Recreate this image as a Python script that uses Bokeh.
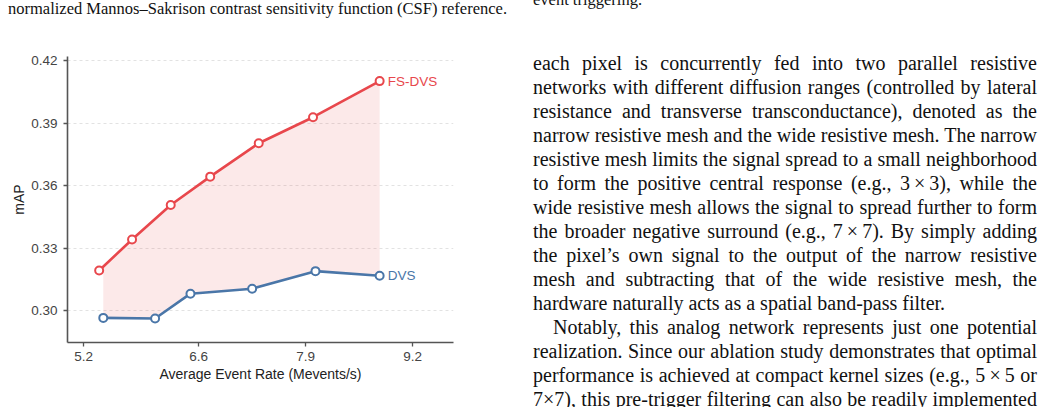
import numpy as np
from bokeh.plotting import figure
from bokeh.models import Div, FixedTicker, Range1d, NumeralTickFormatter
from bokeh.layouts import row, column
from bokeh.core.properties import value
from bokeh.embed import file_html
from bokeh.resources import INLINE

# ---------------- data ----------------
fs_x = [5.39, 5.79, 6.26, 6.74, 7.33, 7.99, 8.80]
fs_y = [0.3193, 0.3342, 0.3507, 0.3643, 0.3803, 0.3928, 0.4101]
dvs_x = [5.44, 6.07, 6.50, 7.25, 8.02, 8.80]
dvs_y = [0.2966, 0.2963, 0.3082, 0.3106, 0.3190, 0.3168]
series_names = ["FS-DVS", "DVS"]
x_ticks = [5.2, 6.6, 7.9, 9.2]
y_ticks = [0.30, 0.33, 0.36, 0.39, 0.42]
x_label = "Average Event Rate (Mevents/s)"
y_label = "mAP"

caption_text = "normalized Mannos\u2013Sakrison contrast sensitivity function (CSF) reference."
top_right_text = "event triggering."
nb = "\u202f"
body_lines = [
    ("each pixel is concurrently fed into two parallel resistive", False, False),
    ("networks with different diffusion ranges (controlled by lateral", False, False),
    ("resistance and transverse transconductance), denoted as the", False, False),
    ("narrow resistive mesh and the wide resistive mesh. The narrow", False, False),
    ("resistive mesh limits the signal spread to a small neighborhood", False, False),
    ("to form the positive central response (e.g., 3" + nb + "\u00d7" + nb + "3), while the", False, False),
    ("wide resistive mesh allows the signal to spread further to form", False, False),
    ("the broader negative surround (e.g., 7" + nb + "\u00d7" + nb + "7). By simply adding", False, False),
    ("the pixel\u2019s own signal to the output of the narrow resistive", False, False),
    ("mesh and subtracting that of the wide resistive mesh, the", False, False),
    ("hardware naturally acts as a spatial band-pass filter.", False, True),
    ("Notably, this analog network represents just one potential", True, False),
    ("realization. Since our ablation study demonstrates that optimal", False, False),
    ("performance is achieved at compact kernel sizes (e.g., 5" + nb + "\u00d7" + nb + "5 or", False, False),
    ("7\u00d77), this pre-trigger filtering can also be readily implemented", False, False),
]

RED = "#e8474c"
BLUE = "#4a76a8"
SANS = "Liberation Sans"

# ---------------- figure ----------------
p = figure(width=512, height=377, output_backend="svg", toolbar_location=None,
           x_range=Range1d(5.005, 9.698), y_range=Range1d(0.2848, 0.4219),
           min_border_left=67, min_border_right=59, min_border_top=26, min_border_bottom=65,
           background_fill_color="white", border_fill_color="white")
p.outline_line_color = None
p.xgrid.visible = False
p.ygrid.grid_line_color = "#e2e2e2"
p.ygrid.grid_line_dash = "3 3"
p.ygrid.grid_line_width = 1

for ax in (p.xaxis[0], p.yaxis[0]):
    ax.axis_line_color = "#555555"
    ax.axis_line_width = 1.6
    ax.major_tick_line_color = "#555555"
    ax.major_tick_line_width = 1.3
    ax.major_tick_out = 4
    ax.major_tick_in = 0
    ax.minor_tick_line_color = None
    ax.major_label_text_font = SANS
    ax.major_label_text_font_size = "13.5px"
    ax.major_label_text_color = "#444444"
    ax.axis_label_text_font = SANS
    ax.axis_label_text_font_size = "14px"
    ax.axis_label_text_font_style = "normal"
    ax.axis_label_text_color = "#222222"

p.xaxis.ticker = FixedTicker(ticks=x_ticks)
p.yaxis.ticker = FixedTicker(ticks=y_ticks)
p.xaxis.formatter = NumeralTickFormatter(format="0.0")
p.yaxis.formatter = NumeralTickFormatter(format="0.00")
p.xaxis.axis_label = x_label
p.yaxis.axis_label = y_label
p.xaxis.major_label_standoff = 5
p.xaxis.axis_label_standoff = 2
p.yaxis.major_label_standoff = 6
p.yaxis.axis_label_standoff = 1

# shaded gap between the two curves (over the DVS x-span)
xg = np.array(sorted(set([x for x in fs_x + dvs_x if dvs_x[0] <= x <= dvs_x[-1]])))
lower = np.interp(xg, dvs_x, dvs_y)
upper = np.interp(xg, fs_x, fs_y)
p.varea(x=xg, y1=lower, y2=upper, fill_color=RED, fill_alpha=0.12)

p.line(fs_x, fs_y, line_color=RED, line_width=2.6)
p.scatter(fs_x, fs_y, marker="circle", size=8, fill_color="white", line_color=RED, line_width=2)
p.line(dvs_x, dvs_y, line_color=BLUE, line_width=2.6)
p.scatter(dvs_x, dvs_y, marker="circle", size=8, fill_color="white", line_color=BLUE, line_width=2)

p.text(x=[fs_x[-1]], y=[fs_y[-1]], text=[series_names[0]], x_offset=8,
       text_baseline="middle", text_align="left", text_font=value(SANS),
       text_font_size="13.5px", text_color=RED)
p.text(x=[dvs_x[-1]], y=[dvs_y[-1]], text=[series_names[1]], x_offset=8,
       text_baseline="middle", text_align="left", text_font=value(SANS),
       text_font_size="13.5px", text_color=BLUE)

# ---------------- text columns ----------------
cap_html = (
    '<div style="position:relative;width:512px;height:30px;overflow:hidden;">'
    '<div style="position:absolute;left:8px;top:-1px;font-family:\'Liberation Serif\';'
    'font-size:16.5px;line-height:20px;white-space:nowrap;color:#111;">'
    + caption_text + '</div></div>'
)
cap_div = Div(text=cap_html, width=512, height=30, margin=0)

parts = ['<div style="position:relative;width:530px;height:407px;overflow:hidden;'
         'font-family:\'Liberation Serif\';color:#111;">']
parts.append('<div style="position:absolute;left:21px;top:-10px;font-size:16.5px;'
             'line-height:20px;white-space:nowrap;">' + top_right_text + '</div>')
for i, (txt, indent, last) in enumerate(body_lines):
    left = 21 + (20 if indent else 0)
    width = 504 - (20 if indent else 0)
    align = "left" if last else "justify"
    parts.append(
        f'<div style="position:absolute;left:{left}px;top:{51 + 24 * i}px;width:{width}px;'
        f'font-size:20px;line-height:24px;white-space:nowrap;text-align:{align};'
        f'text-align-last:{align};">{txt}</div>')
parts.append('</div>')
right_div = Div(text="".join(parts), width=530, height=407, margin=0)

layout = row(column(cap_div, p, spacing=0), right_div, spacing=0)

html = file_html(layout, INLINE)
html = html.replace("<head>", "<head><style>html,body{margin:0;padding:0;}</style>", 1)
open("out.html", "w").write(html)
